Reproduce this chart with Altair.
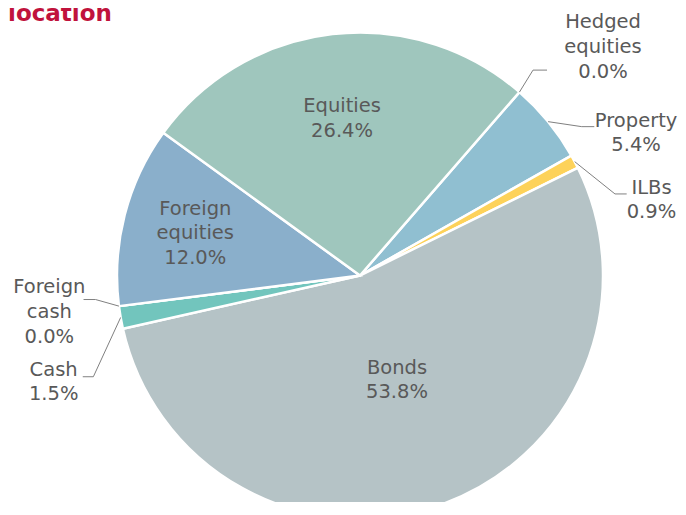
import math
import altair as alt
import pandas as pd

# ---- data -----------------------------------------------------------------
categories = ["Hedged equities", "Property", "ILBs", "Bonds", "Cash",
              "Foreign cash", "Foreign equities", "Equities"]
values = [0.0, 5.4, 0.9, 53.8, 1.5, 0.0, 12.0, 26.4]
display_names = ["Hedged\nequities", "Property", "ILBs", "Bonds", "Cash",
                 "Foreign\ncash", "Foreign\nequities", "Equities"]
colors = ["#4f81bd", "#90bfd1", "#fdd25a", "#b5c3c6", "#72c5bd",
          "#5aa0a0", "#8aafcb", "#9fc6bd"]
title_text = "location"

# ---- layout ---------------------------------------------------------------
W, H = 670, 494
CX, CY = 352.0, 267.5
R = 243
START = math.radians(41.0)
TOTAL = sum(values)
FS, LH = 19.5, 24.7
BASE_DY = 0.0

# inside labels: radius of the label centre along the slice's mid angle
inside_r = {"Equities": 158, "Foreign equities": 170, "Bonds": 111}
# outside labels: leader elbow offset, tail length, text offset (from slice edge)
outside = {
    "Hedged equities": ((13.6, -22.0), 14.0, (83.6, -45.0)),
    "Property": ((33.6, 5.0), 12.6, (88.0, 11.3)),
    "ILBs": ((40.3, 32.3), 11.7, (76.8, 38.3)),
    "Foreign cash": ((-23.4, -6.6), -12.0, (-69.6, 5.9)),
    "Cash": ((-27.3, 59.3), -10.6, (-67.0, 64.6)),
}

labels = [f"{n}\n{v:.1f}%" for n, v in zip(display_names, values)]
n_lines = {c: lab.count("\n") + 1 for c, lab in zip(categories, labels)}

df = pd.DataFrame({
    "category": categories,
    "value": values,
    "idx": list(range(len(categories))),
    "label": labels,
})

theta = alt.Theta("value:Q", stack=True,
                  scale=alt.Scale(domain=[0, TOTAL], range=[START, START + 2 * math.pi]))

pie = alt.Chart(df).mark_arc(outerRadius=R, stroke="white", strokeWidth=2.5).encode(
    theta=theta,
    color=alt.Color("category:N", scale=alt.Scale(domain=categories, range=colors), legend=None),
    order=alt.Order("idx:Q"),
    x=alt.value(CX),
    y=alt.value(CY),
)

angles = alt.Chart(df).transform_window(
    cum="sum(value)", sort=[alt.SortField("idx")], frame=[None, 0]
).transform_calculate(
    mid=f"{START} + 2*PI*(datum.cum - datum.value/2)/{TOTAL}"
)


def polar(r):
    return f"{CX} + {r}*sin(datum.mid)", f"{CY} - {r}*cos(datum.mid)"


def block_dy(cat):
    return BASE_DY - (n_lines[cat] - 1) * LH / 2


txt_style = dict(font="DejaVu Sans", fontSize=FS, lineHeight=LH, color="#595959",
                 align="center", baseline="middle", lineBreak="\n")
line_style = dict(color="#808080", strokeWidth=1)

layers = [pie]
for cat, r in inside_r.items():
    px, py = polar(r)
    layers.append(
        angles.transform_filter(alt.datum.category == cat)
        .transform_calculate(lx=px, ly=py)
        .mark_text(dy=block_dy(cat), **txt_style)
        .encode(x=alt.X("lx:Q", scale=None), y=alt.Y("ly:Q", scale=None), text="label:N")
    )

for cat, ((ex, ey), tail, (tx, ty)) in outside.items():
    px, py = polar(R)
    b = (angles.transform_filter(alt.datum.category == cat)
         .transform_calculate(ox=px, oy=py)
         .transform_calculate(ex=f"datum.ox + {ex}", ey=f"datum.oy + {ey}")
         .transform_calculate(tx=f"datum.ex + {tail}"))
    layers.append(b.mark_rule(**line_style).encode(
        x=alt.X("ox:Q", scale=None), y=alt.Y("oy:Q", scale=None), x2="ex:Q", y2="ey:Q"))
    layers.append(b.mark_rule(**line_style).encode(
        x=alt.X("ex:Q", scale=None), y=alt.Y("ey:Q", scale=None), x2="tx:Q", y2="ey:Q"))
    layers.append(b.mark_text(dx=tx, dy=ty + block_dy(cat), **txt_style).encode(
        x=alt.X("ox:Q", scale=None), y=alt.Y("oy:Q", scale=None), text="label:N"))

title = alt.Chart(pd.DataFrame({"t": [title_text]})).mark_text(
    font="DejaVu Sans", fontWeight="bold", fontSize=23, color="#c0123c",
    align="left", baseline="alphabetic"
).encode(x=alt.value(0), y=alt.value(13), text="t:N")
layers.append(title)

chart = alt.layer(*layers).properties(
    width=W, height=H, padding=0,
    autosize=alt.AutoSizeParams(type="none"),
).configure_view(stroke=None)

chart.save("out.html", embed_options={"renderer": "svg", "actions": False})
